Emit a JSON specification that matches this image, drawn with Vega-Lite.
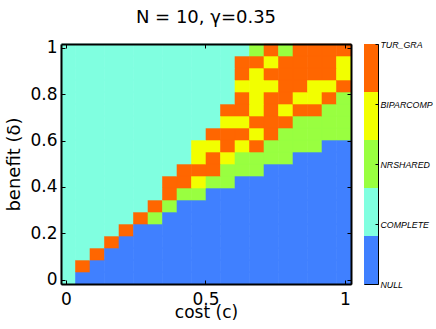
{
"$schema": "https://vega.github.io/schema/vega-lite/v6.json",
"padding": {"left": 5, "top": 8, "right": 0, "bottom": 0},
"spacing": 11,
"config": {"view": {"stroke": "black", "strokeWidth": 1}, "font": "DejaVu Sans", "axis": {"grid": false, "labelColor": "black", "titleColor": "black", "tickColor": "black", "domainColor": "black"}},
"hconcat": [
{
"title": {"text": "N = 10, γ=0.35", "fontSize": 18, "fontWeight": "normal", "font": "DejaVu Sans", "offset": 12, "color": "black"},
"width": 290, "height": 240,
"data": {"values": [
{"c":0.008,"b":0.008,"s":"COMPLETE"},{"c":0.06,"b":0.008,"s":"NULL"},{"c":0.112,"b":0.008,"s":"NULL"},{"c":0.164,"b":0.008,"s":"NULL"},{"c":0.216,"b":0.008,"s":"NULL"},{"c":0.268,"b":0.008,"s":"NULL"},{"c":0.32,"b":0.008,"s":"NULL"},{"c":0.372,"b":0.008,"s":"NULL"},{"c":0.424,"b":0.008,"s":"NULL"},{"c":0.476,"b":0.008,"s":"NULL"},{"c":0.528,"b":0.008,"s":"NULL"},{"c":0.58,"b":0.008,"s":"NULL"},{"c":0.632,"b":0.008,"s":"NULL"},{"c":0.684,"b":0.008,"s":"NULL"},{"c":0.736,"b":0.008,"s":"NULL"},{"c":0.788,"b":0.008,"s":"NULL"},{"c":0.84,"b":0.008,"s":"NULL"},{"c":0.892,"b":0.008,"s":"NULL"},{"c":0.944,"b":0.008,"s":"NULL"},{"c":0.996,"b":0.008,"s":"NULL"},
{"c":0.008,"b":0.06,"s":"COMPLETE"},{"c":0.06,"b":0.06,"s":"TUR_GRA"},{"c":0.112,"b":0.06,"s":"NULL"},{"c":0.164,"b":0.06,"s":"NULL"},{"c":0.216,"b":0.06,"s":"NULL"},{"c":0.268,"b":0.06,"s":"NULL"},{"c":0.32,"b":0.06,"s":"NULL"},{"c":0.372,"b":0.06,"s":"NULL"},{"c":0.424,"b":0.06,"s":"NULL"},{"c":0.476,"b":0.06,"s":"NULL"},{"c":0.528,"b":0.06,"s":"NULL"},{"c":0.58,"b":0.06,"s":"NULL"},{"c":0.632,"b":0.06,"s":"NULL"},{"c":0.684,"b":0.06,"s":"NULL"},{"c":0.736,"b":0.06,"s":"NULL"},{"c":0.788,"b":0.06,"s":"NULL"},{"c":0.84,"b":0.06,"s":"NULL"},{"c":0.892,"b":0.06,"s":"NULL"},{"c":0.944,"b":0.06,"s":"NULL"},{"c":0.996,"b":0.06,"s":"NULL"},
{"c":0.008,"b":0.112,"s":"COMPLETE"},{"c":0.06,"b":0.112,"s":"COMPLETE"},{"c":0.112,"b":0.112,"s":"TUR_GRA"},{"c":0.164,"b":0.112,"s":"NULL"},{"c":0.216,"b":0.112,"s":"NULL"},{"c":0.268,"b":0.112,"s":"NULL"},{"c":0.32,"b":0.112,"s":"NULL"},{"c":0.372,"b":0.112,"s":"NULL"},{"c":0.424,"b":0.112,"s":"NULL"},{"c":0.476,"b":0.112,"s":"NULL"},{"c":0.528,"b":0.112,"s":"NULL"},{"c":0.58,"b":0.112,"s":"NULL"},{"c":0.632,"b":0.112,"s":"NULL"},{"c":0.684,"b":0.112,"s":"NULL"},{"c":0.736,"b":0.112,"s":"NULL"},{"c":0.788,"b":0.112,"s":"NULL"},{"c":0.84,"b":0.112,"s":"NULL"},{"c":0.892,"b":0.112,"s":"NULL"},{"c":0.944,"b":0.112,"s":"NULL"},{"c":0.996,"b":0.112,"s":"NULL"},
{"c":0.008,"b":0.164,"s":"COMPLETE"},{"c":0.06,"b":0.164,"s":"COMPLETE"},{"c":0.112,"b":0.164,"s":"COMPLETE"},{"c":0.164,"b":0.164,"s":"TUR_GRA"},{"c":0.216,"b":0.164,"s":"NULL"},{"c":0.268,"b":0.164,"s":"NULL"},{"c":0.32,"b":0.164,"s":"NULL"},{"c":0.372,"b":0.164,"s":"NULL"},{"c":0.424,"b":0.164,"s":"NULL"},{"c":0.476,"b":0.164,"s":"NULL"},{"c":0.528,"b":0.164,"s":"NULL"},{"c":0.58,"b":0.164,"s":"NULL"},{"c":0.632,"b":0.164,"s":"NULL"},{"c":0.684,"b":0.164,"s":"NULL"},{"c":0.736,"b":0.164,"s":"NULL"},{"c":0.788,"b":0.164,"s":"NULL"},{"c":0.84,"b":0.164,"s":"NULL"},{"c":0.892,"b":0.164,"s":"NULL"},{"c":0.944,"b":0.164,"s":"NULL"},{"c":0.996,"b":0.164,"s":"NULL"},
{"c":0.008,"b":0.216,"s":"COMPLETE"},{"c":0.06,"b":0.216,"s":"COMPLETE"},{"c":0.112,"b":0.216,"s":"COMPLETE"},{"c":0.164,"b":0.216,"s":"COMPLETE"},{"c":0.216,"b":0.216,"s":"TUR_GRA"},{"c":0.268,"b":0.216,"s":"NULL"},{"c":0.32,"b":0.216,"s":"NULL"},{"c":0.372,"b":0.216,"s":"NULL"},{"c":0.424,"b":0.216,"s":"NULL"},{"c":0.476,"b":0.216,"s":"NULL"},{"c":0.528,"b":0.216,"s":"NULL"},{"c":0.58,"b":0.216,"s":"NULL"},{"c":0.632,"b":0.216,"s":"NULL"},{"c":0.684,"b":0.216,"s":"NULL"},{"c":0.736,"b":0.216,"s":"NULL"},{"c":0.788,"b":0.216,"s":"NULL"},{"c":0.84,"b":0.216,"s":"NULL"},{"c":0.892,"b":0.216,"s":"NULL"},{"c":0.944,"b":0.216,"s":"NULL"},{"c":0.996,"b":0.216,"s":"NULL"},
{"c":0.008,"b":0.268,"s":"COMPLETE"},{"c":0.06,"b":0.268,"s":"COMPLETE"},{"c":0.112,"b":0.268,"s":"COMPLETE"},{"c":0.164,"b":0.268,"s":"COMPLETE"},{"c":0.216,"b":0.268,"s":"COMPLETE"},{"c":0.268,"b":0.268,"s":"TUR_GRA"},{"c":0.32,"b":0.268,"s":"NRSHARED"},{"c":0.372,"b":0.268,"s":"NULL"},{"c":0.424,"b":0.268,"s":"NULL"},{"c":0.476,"b":0.268,"s":"NULL"},{"c":0.528,"b":0.268,"s":"NULL"},{"c":0.58,"b":0.268,"s":"NULL"},{"c":0.632,"b":0.268,"s":"NULL"},{"c":0.684,"b":0.268,"s":"NULL"},{"c":0.736,"b":0.268,"s":"NULL"},{"c":0.788,"b":0.268,"s":"NULL"},{"c":0.84,"b":0.268,"s":"NULL"},{"c":0.892,"b":0.268,"s":"NULL"},{"c":0.944,"b":0.268,"s":"NULL"},{"c":0.996,"b":0.268,"s":"NULL"},
{"c":0.008,"b":0.32,"s":"COMPLETE"},{"c":0.06,"b":0.32,"s":"COMPLETE"},{"c":0.112,"b":0.32,"s":"COMPLETE"},{"c":0.164,"b":0.32,"s":"COMPLETE"},{"c":0.216,"b":0.32,"s":"COMPLETE"},{"c":0.268,"b":0.32,"s":"COMPLETE"},{"c":0.32,"b":0.32,"s":"TUR_GRA"},{"c":0.372,"b":0.32,"s":"NRSHARED"},{"c":0.424,"b":0.32,"s":"NULL"},{"c":0.476,"b":0.32,"s":"NULL"},{"c":0.528,"b":0.32,"s":"NULL"},{"c":0.58,"b":0.32,"s":"NULL"},{"c":0.632,"b":0.32,"s":"NULL"},{"c":0.684,"b":0.32,"s":"NULL"},{"c":0.736,"b":0.32,"s":"NULL"},{"c":0.788,"b":0.32,"s":"NULL"},{"c":0.84,"b":0.32,"s":"NULL"},{"c":0.892,"b":0.32,"s":"NULL"},{"c":0.944,"b":0.32,"s":"NULL"},{"c":0.996,"b":0.32,"s":"NULL"},
{"c":0.008,"b":0.372,"s":"COMPLETE"},{"c":0.06,"b":0.372,"s":"COMPLETE"},{"c":0.112,"b":0.372,"s":"COMPLETE"},{"c":0.164,"b":0.372,"s":"COMPLETE"},{"c":0.216,"b":0.372,"s":"COMPLETE"},{"c":0.268,"b":0.372,"s":"COMPLETE"},{"c":0.32,"b":0.372,"s":"COMPLETE"},{"c":0.372,"b":0.372,"s":"TUR_GRA"},{"c":0.424,"b":0.372,"s":"NRSHARED"},{"c":0.476,"b":0.372,"s":"NRSHARED"},{"c":0.528,"b":0.372,"s":"NULL"},{"c":0.58,"b":0.372,"s":"NULL"},{"c":0.632,"b":0.372,"s":"NULL"},{"c":0.684,"b":0.372,"s":"NULL"},{"c":0.736,"b":0.372,"s":"NULL"},{"c":0.788,"b":0.372,"s":"NULL"},{"c":0.84,"b":0.372,"s":"NULL"},{"c":0.892,"b":0.372,"s":"NULL"},{"c":0.944,"b":0.372,"s":"NULL"},{"c":0.996,"b":0.372,"s":"NULL"},
{"c":0.008,"b":0.424,"s":"COMPLETE"},{"c":0.06,"b":0.424,"s":"COMPLETE"},{"c":0.112,"b":0.424,"s":"COMPLETE"},{"c":0.164,"b":0.424,"s":"COMPLETE"},{"c":0.216,"b":0.424,"s":"COMPLETE"},{"c":0.268,"b":0.424,"s":"COMPLETE"},{"c":0.32,"b":0.424,"s":"COMPLETE"},{"c":0.372,"b":0.424,"s":"TUR_GRA"},{"c":0.424,"b":0.424,"s":"TUR_GRA"},{"c":0.476,"b":0.424,"s":"BIPARCOMP"},{"c":0.528,"b":0.424,"s":"NRSHARED"},{"c":0.58,"b":0.424,"s":"NRSHARED"},{"c":0.632,"b":0.424,"s":"NULL"},{"c":0.684,"b":0.424,"s":"NULL"},{"c":0.736,"b":0.424,"s":"NULL"},{"c":0.788,"b":0.424,"s":"NULL"},{"c":0.84,"b":0.424,"s":"NULL"},{"c":0.892,"b":0.424,"s":"NULL"},{"c":0.944,"b":0.424,"s":"NULL"},{"c":0.996,"b":0.424,"s":"NULL"},
{"c":0.008,"b":0.476,"s":"COMPLETE"},{"c":0.06,"b":0.476,"s":"COMPLETE"},{"c":0.112,"b":0.476,"s":"COMPLETE"},{"c":0.164,"b":0.476,"s":"COMPLETE"},{"c":0.216,"b":0.476,"s":"COMPLETE"},{"c":0.268,"b":0.476,"s":"COMPLETE"},{"c":0.32,"b":0.476,"s":"COMPLETE"},{"c":0.372,"b":0.476,"s":"COMPLETE"},{"c":0.424,"b":0.476,"s":"TUR_GRA"},{"c":0.476,"b":0.476,"s":"TUR_GRA"},{"c":0.528,"b":0.476,"s":"TUR_GRA"},{"c":0.58,"b":0.476,"s":"NRSHARED"},{"c":0.632,"b":0.476,"s":"NRSHARED"},{"c":0.684,"b":0.476,"s":"NRSHARED"},{"c":0.736,"b":0.476,"s":"NULL"},{"c":0.788,"b":0.476,"s":"NULL"},{"c":0.84,"b":0.476,"s":"NULL"},{"c":0.892,"b":0.476,"s":"NULL"},{"c":0.944,"b":0.476,"s":"NULL"},{"c":0.996,"b":0.476,"s":"NULL"},
{"c":0.008,"b":0.528,"s":"COMPLETE"},{"c":0.06,"b":0.528,"s":"COMPLETE"},{"c":0.112,"b":0.528,"s":"COMPLETE"},{"c":0.164,"b":0.528,"s":"COMPLETE"},{"c":0.216,"b":0.528,"s":"COMPLETE"},{"c":0.268,"b":0.528,"s":"COMPLETE"},{"c":0.32,"b":0.528,"s":"COMPLETE"},{"c":0.372,"b":0.528,"s":"COMPLETE"},{"c":0.424,"b":0.528,"s":"COMPLETE"},{"c":0.476,"b":0.528,"s":"BIPARCOMP"},{"c":0.528,"b":0.528,"s":"TUR_GRA"},{"c":0.58,"b":0.528,"s":"BIPARCOMP"},{"c":0.632,"b":0.528,"s":"NRSHARED"},{"c":0.684,"b":0.528,"s":"NRSHARED"},{"c":0.736,"b":0.528,"s":"NRSHARED"},{"c":0.788,"b":0.528,"s":"NRSHARED"},{"c":0.84,"b":0.528,"s":"NULL"},{"c":0.892,"b":0.528,"s":"NULL"},{"c":0.944,"b":0.528,"s":"NULL"},{"c":0.996,"b":0.528,"s":"NULL"},
{"c":0.008,"b":0.58,"s":"COMPLETE"},{"c":0.06,"b":0.58,"s":"COMPLETE"},{"c":0.112,"b":0.58,"s":"COMPLETE"},{"c":0.164,"b":0.58,"s":"COMPLETE"},{"c":0.216,"b":0.58,"s":"COMPLETE"},{"c":0.268,"b":0.58,"s":"COMPLETE"},{"c":0.32,"b":0.58,"s":"COMPLETE"},{"c":0.372,"b":0.58,"s":"COMPLETE"},{"c":0.424,"b":0.58,"s":"COMPLETE"},{"c":0.476,"b":0.58,"s":"BIPARCOMP"},{"c":0.528,"b":0.58,"s":"BIPARCOMP"},{"c":0.58,"b":0.58,"s":"TUR_GRA"},{"c":0.632,"b":0.58,"s":"BIPARCOMP"},{"c":0.684,"b":0.58,"s":"TUR_GRA"},{"c":0.736,"b":0.58,"s":"NRSHARED"},{"c":0.788,"b":0.58,"s":"NRSHARED"},{"c":0.84,"b":0.58,"s":"NRSHARED"},{"c":0.892,"b":0.58,"s":"NRSHARED"},{"c":0.944,"b":0.58,"s":"NULL"},{"c":0.996,"b":0.58,"s":"NULL"},
{"c":0.008,"b":0.632,"s":"COMPLETE"},{"c":0.06,"b":0.632,"s":"COMPLETE"},{"c":0.112,"b":0.632,"s":"COMPLETE"},{"c":0.164,"b":0.632,"s":"COMPLETE"},{"c":0.216,"b":0.632,"s":"COMPLETE"},{"c":0.268,"b":0.632,"s":"COMPLETE"},{"c":0.32,"b":0.632,"s":"COMPLETE"},{"c":0.372,"b":0.632,"s":"COMPLETE"},{"c":0.424,"b":0.632,"s":"COMPLETE"},{"c":0.476,"b":0.632,"s":"COMPLETE"},{"c":0.528,"b":0.632,"s":"TUR_GRA"},{"c":0.58,"b":0.632,"s":"TUR_GRA"},{"c":0.632,"b":0.632,"s":"TUR_GRA"},{"c":0.684,"b":0.632,"s":"BIPARCOMP"},{"c":0.736,"b":0.632,"s":"TUR_GRA"},{"c":0.788,"b":0.632,"s":"NRSHARED"},{"c":0.84,"b":0.632,"s":"NRSHARED"},{"c":0.892,"b":0.632,"s":"NRSHARED"},{"c":0.944,"b":0.632,"s":"NRSHARED"},{"c":0.996,"b":0.632,"s":"NRSHARED"},
{"c":0.008,"b":0.684,"s":"COMPLETE"},{"c":0.06,"b":0.684,"s":"COMPLETE"},{"c":0.112,"b":0.684,"s":"COMPLETE"},{"c":0.164,"b":0.684,"s":"COMPLETE"},{"c":0.216,"b":0.684,"s":"COMPLETE"},{"c":0.268,"b":0.684,"s":"COMPLETE"},{"c":0.32,"b":0.684,"s":"COMPLETE"},{"c":0.372,"b":0.684,"s":"COMPLETE"},{"c":0.424,"b":0.684,"s":"COMPLETE"},{"c":0.476,"b":0.684,"s":"COMPLETE"},{"c":0.528,"b":0.684,"s":"COMPLETE"},{"c":0.58,"b":0.684,"s":"BIPARCOMP"},{"c":0.632,"b":0.684,"s":"BIPARCOMP"},{"c":0.684,"b":0.684,"s":"TUR_GRA"},{"c":0.736,"b":0.684,"s":"TUR_GRA"},{"c":0.788,"b":0.684,"s":"TUR_GRA"},{"c":0.84,"b":0.684,"s":"NRSHARED"},{"c":0.892,"b":0.684,"s":"NRSHARED"},{"c":0.944,"b":0.684,"s":"NRSHARED"},{"c":0.996,"b":0.684,"s":"NRSHARED"},
{"c":0.008,"b":0.736,"s":"COMPLETE"},{"c":0.06,"b":0.736,"s":"COMPLETE"},{"c":0.112,"b":0.736,"s":"COMPLETE"},{"c":0.164,"b":0.736,"s":"COMPLETE"},{"c":0.216,"b":0.736,"s":"COMPLETE"},{"c":0.268,"b":0.736,"s":"COMPLETE"},{"c":0.32,"b":0.736,"s":"COMPLETE"},{"c":0.372,"b":0.736,"s":"COMPLETE"},{"c":0.424,"b":0.736,"s":"COMPLETE"},{"c":0.476,"b":0.736,"s":"COMPLETE"},{"c":0.528,"b":0.736,"s":"COMPLETE"},{"c":0.58,"b":0.736,"s":"TUR_GRA"},{"c":0.632,"b":0.736,"s":"TUR_GRA"},{"c":0.684,"b":0.736,"s":"BIPARCOMP"},{"c":0.736,"b":0.736,"s":"TUR_GRA"},{"c":0.788,"b":0.736,"s":"BIPARCOMP"},{"c":0.84,"b":0.736,"s":"TUR_GRA"},{"c":0.892,"b":0.736,"s":"TUR_GRA"},{"c":0.944,"b":0.736,"s":"NRSHARED"},{"c":0.996,"b":0.736,"s":"NRSHARED"},
{"c":0.008,"b":0.788,"s":"COMPLETE"},{"c":0.06,"b":0.788,"s":"COMPLETE"},{"c":0.112,"b":0.788,"s":"COMPLETE"},{"c":0.164,"b":0.788,"s":"COMPLETE"},{"c":0.216,"b":0.788,"s":"COMPLETE"},{"c":0.268,"b":0.788,"s":"COMPLETE"},{"c":0.32,"b":0.788,"s":"COMPLETE"},{"c":0.372,"b":0.788,"s":"COMPLETE"},{"c":0.424,"b":0.788,"s":"COMPLETE"},{"c":0.476,"b":0.788,"s":"COMPLETE"},{"c":0.528,"b":0.788,"s":"COMPLETE"},{"c":0.58,"b":0.788,"s":"COMPLETE"},{"c":0.632,"b":0.788,"s":"TUR_GRA"},{"c":0.684,"b":0.788,"s":"BIPARCOMP"},{"c":0.736,"b":0.788,"s":"TUR_GRA"},{"c":0.788,"b":0.788,"s":"TUR_GRA"},{"c":0.84,"b":0.788,"s":"BIPARCOMP"},{"c":0.892,"b":0.788,"s":"BIPARCOMP"},{"c":0.944,"b":0.788,"s":"TUR_GRA"},{"c":0.996,"b":0.788,"s":"NRSHARED"},
{"c":0.008,"b":0.84,"s":"COMPLETE"},{"c":0.06,"b":0.84,"s":"COMPLETE"},{"c":0.112,"b":0.84,"s":"COMPLETE"},{"c":0.164,"b":0.84,"s":"COMPLETE"},{"c":0.216,"b":0.84,"s":"COMPLETE"},{"c":0.268,"b":0.84,"s":"COMPLETE"},{"c":0.32,"b":0.84,"s":"COMPLETE"},{"c":0.372,"b":0.84,"s":"COMPLETE"},{"c":0.424,"b":0.84,"s":"COMPLETE"},{"c":0.476,"b":0.84,"s":"COMPLETE"},{"c":0.528,"b":0.84,"s":"COMPLETE"},{"c":0.58,"b":0.84,"s":"COMPLETE"},{"c":0.632,"b":0.84,"s":"BIPARCOMP"},{"c":0.684,"b":0.84,"s":"BIPARCOMP"},{"c":0.736,"b":0.84,"s":"BIPARCOMP"},{"c":0.788,"b":0.84,"s":"TUR_GRA"},{"c":0.84,"b":0.84,"s":"TUR_GRA"},{"c":0.892,"b":0.84,"s":"BIPARCOMP"},{"c":0.944,"b":0.84,"s":"BIPARCOMP"},{"c":0.996,"b":0.84,"s":"TUR_GRA"},
{"c":0.008,"b":0.892,"s":"COMPLETE"},{"c":0.06,"b":0.892,"s":"COMPLETE"},{"c":0.112,"b":0.892,"s":"COMPLETE"},{"c":0.164,"b":0.892,"s":"COMPLETE"},{"c":0.216,"b":0.892,"s":"COMPLETE"},{"c":0.268,"b":0.892,"s":"COMPLETE"},{"c":0.32,"b":0.892,"s":"COMPLETE"},{"c":0.372,"b":0.892,"s":"COMPLETE"},{"c":0.424,"b":0.892,"s":"COMPLETE"},{"c":0.476,"b":0.892,"s":"COMPLETE"},{"c":0.528,"b":0.892,"s":"COMPLETE"},{"c":0.58,"b":0.892,"s":"COMPLETE"},{"c":0.632,"b":0.892,"s":"TUR_GRA"},{"c":0.684,"b":0.892,"s":"BIPARCOMP"},{"c":0.736,"b":0.892,"s":"TUR_GRA"},{"c":0.788,"b":0.892,"s":"TUR_GRA"},{"c":0.84,"b":0.892,"s":"TUR_GRA"},{"c":0.892,"b":0.892,"s":"TUR_GRA"},{"c":0.944,"b":0.892,"s":"TUR_GRA"},{"c":0.996,"b":0.892,"s":"BIPARCOMP"},
{"c":0.008,"b":0.944,"s":"COMPLETE"},{"c":0.06,"b":0.944,"s":"COMPLETE"},{"c":0.112,"b":0.944,"s":"COMPLETE"},{"c":0.164,"b":0.944,"s":"COMPLETE"},{"c":0.216,"b":0.944,"s":"COMPLETE"},{"c":0.268,"b":0.944,"s":"COMPLETE"},{"c":0.32,"b":0.944,"s":"COMPLETE"},{"c":0.372,"b":0.944,"s":"COMPLETE"},{"c":0.424,"b":0.944,"s":"COMPLETE"},{"c":0.476,"b":0.944,"s":"COMPLETE"},{"c":0.528,"b":0.944,"s":"COMPLETE"},{"c":0.58,"b":0.944,"s":"COMPLETE"},{"c":0.632,"b":0.944,"s":"TUR_GRA"},{"c":0.684,"b":0.944,"s":"TUR_GRA"},{"c":0.736,"b":0.944,"s":"BIPARCOMP"},{"c":0.788,"b":0.944,"s":"TUR_GRA"},{"c":0.84,"b":0.944,"s":"TUR_GRA"},{"c":0.892,"b":0.944,"s":"TUR_GRA"},{"c":0.944,"b":0.944,"s":"TUR_GRA"},{"c":0.996,"b":0.944,"s":"BIPARCOMP"},
{"c":0.008,"b":0.996,"s":"COMPLETE"},{"c":0.06,"b":0.996,"s":"COMPLETE"},{"c":0.112,"b":0.996,"s":"COMPLETE"},{"c":0.164,"b":0.996,"s":"COMPLETE"},{"c":0.216,"b":0.996,"s":"COMPLETE"},{"c":0.268,"b":0.996,"s":"COMPLETE"},{"c":0.32,"b":0.996,"s":"COMPLETE"},{"c":0.372,"b":0.996,"s":"COMPLETE"},{"c":0.424,"b":0.996,"s":"COMPLETE"},{"c":0.476,"b":0.996,"s":"COMPLETE"},{"c":0.528,"b":0.996,"s":"COMPLETE"},{"c":0.58,"b":0.996,"s":"COMPLETE"},{"c":0.632,"b":0.996,"s":"COMPLETE"},{"c":0.684,"b":0.996,"s":"NRSHARED"},{"c":0.736,"b":0.996,"s":"TUR_GRA"},{"c":0.788,"b":0.996,"s":"NRSHARED"},{"c":0.84,"b":0.996,"s":"TUR_GRA"},{"c":0.892,"b":0.996,"s":"TUR_GRA"},{"c":0.944,"b":0.996,"s":"TUR_GRA"},{"c":0.996,"b":0.996,"s":"TUR_GRA"}
]},
"layer": [
{"mark": {"type": "rect", "strokeWidth": 0.6},
 "encoding": {
  "x": {"field": "c", "type": "ordinal", "axis": null, "scale": {"paddingInner": 0, "paddingOuter": 0}},
  "y": {"field": "b", "type": "ordinal", "sort": "descending", "axis": null, "scale": {"paddingInner": 0, "paddingOuter": 0}},
  "color": {"field": "s", "type": "nominal", "legend": null, "scale": {"domain": ["NULL", "COMPLETE", "NRSHARED", "BIPARCOMP", "TUR_GRA"], "range": ["#4080FF", "#80FFE0", "#99FF40", "#F2FF00", "#FF6600"]}},
  "stroke": {"field": "s", "type": "nominal", "legend": null, "scale": {"domain": ["NULL", "COMPLETE", "NRSHARED", "BIPARCOMP", "TUR_GRA"], "range": ["#4080FF", "#80FFE0", "#99FF40", "#F2FF00", "#FF6600"]}}
 }},
{"data": {"values": [{}]},
 "mark": {"type": "point", "opacity": 0},
 "encoding": {
  "x": {"datum": 0.5, "type": "quantitative", "scale": {"domain": [-0.018, 1.022], "nice": false, "zero": false},
        "axis": {"orient": "bottom", "values": [0, 0.5, 1], "format": "~g", "title": "cost (c)", "tickSize": -4, "labelPadding": 11, "labelFontSize": 17, "labelFlush": false, "titleFontSize": 17, "titleFontWeight": "normal", "titlePadding": -3, "domainWidth": 2, "zindex": 1}},
  "y": {"datum": 0.5, "type": "quantitative", "scale": {"domain": [-0.019, 1.017], "nice": false, "zero": false},
        "axis": {"orient": "left", "values": [0, 0.2, 0.4, 0.6, 0.8, 1], "format": "~g", "title": "benefit (δ)", "tickSize": -4, "labelPadding": 8, "labelFontSize": 17, "labelFlush": false, "titleFontSize": 18, "titleFontWeight": "normal", "titlePadding": 6, "domainWidth": 2, "zindex": 1}}
 }},
{"data": {"values": [{}]},
 "mark": {"type": "point", "opacity": 0},
 "encoding": {
  "x": {"datum": 0.5, "type": "quantitative", "scale": {"domain": [-0.018, 1.022], "nice": false, "zero": false},
        "axis": {"orient": "top", "values": [0, 0.5, 1], "labels": false, "title": null, "tickSize": -4, "domainWidth": 2, "zindex": 1}},
  "y": {"datum": 0.5, "type": "quantitative", "scale": {"domain": [-0.019, 1.017], "nice": false, "zero": false},
        "axis": {"orient": "right", "values": [0, 0.2, 0.4, 0.6, 0.8, 1], "labels": false, "title": null, "tickSize": -4, "domainWidth": 2, "zindex": 1}}
 }}
],
"resolve": {"scale": {"x": "independent", "y": "independent"}, "axis": {"x": "independent", "y": "independent"}}
},
{
"width": 14, "height": 240,
"data": {"values": [{"s": "NULL", "v": 1, "o": 1}, {"s": "COMPLETE", "v": 1, "o": 2}, {"s": "NRSHARED", "v": 1, "o": 3}, {"s": "BIPARCOMP", "v": 1, "o": 4}, {"s": "TUR_GRA", "v": 1, "o": 5}]},
"mark": {"type": "bar"},
"encoding": {
 "x": {"datum": "bar", "type": "nominal", "axis": null, "scale": {"paddingInner": 0, "paddingOuter": 0}},
 "y": {"field": "v", "type": "quantitative", "stack": "zero", "scale": {"domain": [0, 5], "nice": false},
       "axis": {"orient": "right", "values": [0, 1.25, 2.5, 3.75, 5], "labelExpr": "datum.value == 0 ? 'NULL' : datum.value == 1.25 ? 'COMPLETE' : datum.value == 2.5 ? 'NRSHARED' : datum.value == 3.75 ? 'BIPARCOMP' : 'TUR_GRA'", "title": null, "tickSize": -3, "labelPadding": 5, "labelFont": "Liberation Sans", "labelFontStyle": "italic", "labelFontSize": 8.8, "labelFlush": false, "labelOverlap": false, "domain": false, "zindex": 1}},
 "color": {"field": "s", "type": "nominal", "legend": null, "scale": {"domain": ["NULL", "COMPLETE", "NRSHARED", "BIPARCOMP", "TUR_GRA"], "range": ["#4080FF", "#80FFE0", "#99FF40", "#F2FF00", "#FF6600"]}},
 "order": {"field": "o"}
}
}
]
}
